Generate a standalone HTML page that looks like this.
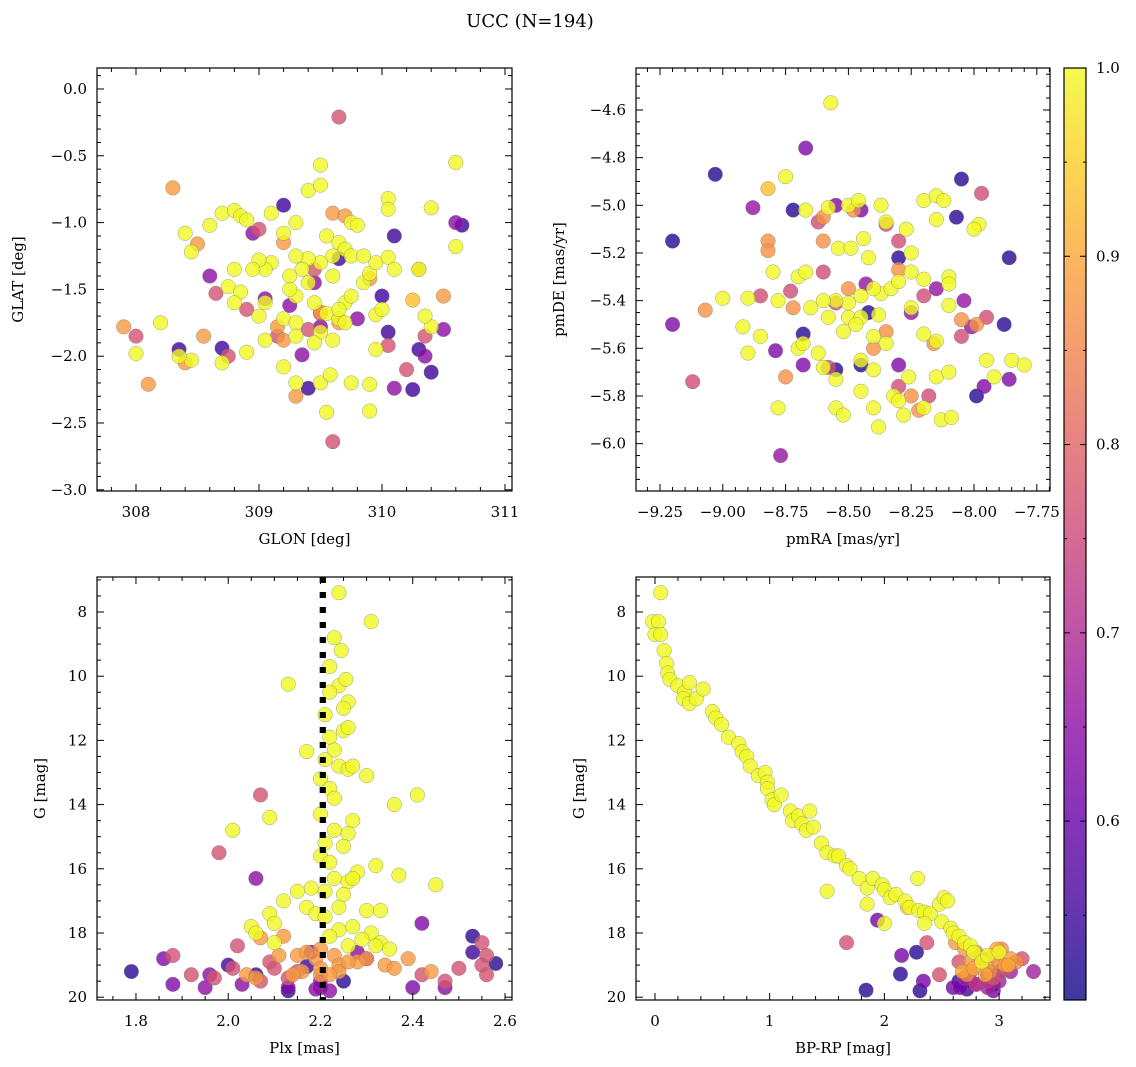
<!DOCTYPE html>
<html><head><meta charset="utf-8"><style>
html,body{margin:0;padding:0;background:#fff;}
svg{display:block;font-family:"DejaVu Serif","Liberation Serif",serif;}
</style></head><body>
<svg id="fig" width="1136" height="1067" viewBox="0 0 1136 1067" xmlns="http://www.w3.org/2000/svg">
<text x="530" y="27" font-size="18" text-anchor="middle">UCC (N=194)</text>
</svg>
<script>
// ---- Panel 1: GLON / GLAT ----
const p1Glon = [309.5,310.6,309.4,309.5,309.1,308.7,308.8,308.85,308.9,309.3,310.05,310.05,310.4,309.2,309.75,309.8,309.55,308.6,308.4,308.45,308.0,309.65,309.7,309.75,309.6,309.5,309.4,309.35,309.3,309.25,309.1,309.05,309.0,308.95,308.8,308.75,308.85,308.8,309.05,309.0,309.2,309.3,309.45,309.55,309.65,309.7,309.75,309.85,309.9,309.95,310.05,310.1,309.85,309.3,309.4,309.25,309.6,309.65,309.7,309.5,309.45,309.3,309.6,309.05,308.9,308.7,308.45,309.2,309.3,309.5,309.75,309.9,309.55,309.9,309.58,309.95,310.0,310.6,310.3,310.4,310.35,308.2,308.35,309.95,
308.3,309.6,309.7,309.2,308.5,309.9,310.3,310.5,309.5,309.15,309.2,309.3,308.1,307.9,308.4,309.65,308.55,
309.65,309.6,308.0,309.0,308.65,308.9,309.4,309.45,309.15,308.75,310.2,310.35,309.5,310.05,
308.6,309.45,308.95,309.25,309.05,309.35,309.5,310.35,310.5,310.6,309.8,310.1,
309.2,309.65,308.35,309.4,310.0,310.4,310.65,310.1,308.7,310.3,310.05,310.25,310.25];
const p1Glat = [-0.57,-0.55,-0.76,-0.72,-0.93,-0.93,-0.91,-0.95,-0.98,-1.0,-0.82,-0.9,-0.89,-1.08,-1.0,-1.02,-1.1,-1.02,-1.08,-1.22,-1.98,-1.15,-1.2,-1.25,-1.25,-1.3,-1.27,-1.35,-1.25,-1.4,-1.3,-1.35,-1.28,-1.35,-1.35,-1.48,-1.52,-1.6,-1.6,-1.7,-1.72,-1.75,-1.6,-1.68,-1.72,-1.6,-1.55,-1.45,-1.38,-1.3,-1.26,-1.35,-1.25,-1.55,-1.45,-1.5,-1.4,-1.65,-1.75,-1.82,-1.9,-1.85,-1.88,-1.88,-1.97,-2.05,-2.03,-2.08,-2.2,-2.2,-2.2,-2.21,-2.42,-2.41,-2.14,-1.69,-1.65,-1.18,-1.35,-1.78,-1.7,-1.75,-2.0,-1.95,
-0.74,-0.93,-0.95,-1.15,-1.16,-1.42,-1.35,-1.55,-1.67,-1.78,-1.88,-2.3,-2.21,-1.78,-2.05,-1.75,-1.85,
-0.21,-2.64,-1.85,-1.05,-1.53,-1.65,-1.8,-1.35,-1.85,-2.0,-2.1,-1.85,-1.68,-1.92,
-1.4,-1.45,-1.08,-1.62,-1.57,-1.99,-1.78,-2.0,-1.8,-1.0,-1.72,-2.24,
-0.87,-1.27,-1.95,-2.24,-1.55,-2.12,-1.02,-1.1,-1.94,-1.95,-1.82,-2.25,-1.58];
const p1Prob = [1,1,1,1,1,1,1,1,1,1,1,1,1,1,1,1,1,1,1,1,1,1,1,1,1,1,1,1,1,1,1,1,1,1,1,1,1,1,1,1,1,1,1,1,1,1,1,1,1,1,1,1,1,1,1,1,1,1,1,1,1,1,1,1,1,1,1,1,1,1,1,1,1,1,1,1,1,1,1,1,1,1,1,1,
0.88,0.88,0.88,0.88,0.88,0.88,0.88,0.88,0.88,0.88,0.88,0.88,0.88,0.88,0.88,0.88,0.88,
0.77,0.77,0.77,0.77,0.77,0.77,0.77,0.77,0.77,0.77,0.77,0.77,0.77,0.77,
0.65,0.65,0.65,0.65,0.65,0.65,0.65,0.65,0.65,0.65,0.65,0.65,
0.55,0.55,0.55,0.55,0.55,0.55,0.55,0.55,0.55,0.55,0.55,0.55,0.93];

// ---- Panel 2: pmRA / pmDE ----
const p2Ra = [-9.2,-9.03,-8.72,-8.68,-8.42,-8.05,-8.07,-8.3,-8.45,-7.88,-7.86,-7.99,-8.55,
-9.2,-8.88,-8.67,-8.55,-8.45,-8.15,-8.79,-8.68,-8.04,-7.96,-8.3,-8.01,-7.86,-8.77,-8.25,-8.43,
-8.85,-8.62,-9.12,-7.97,-8.73,-8.6,-8.55,-8.35,-8.3,-8.05,-8.2,-7.95,-8.58,-8.3,-8.18,
-9.07,-8.82,-8.82,-8.6,-8.72,-8.48,-8.3,-8.35,-8.16,-8.05,-7.99,-8.25,-8.22,-8.4,-8.75,-8.6,-8.5,
-8.57,-8.75,-8.82,-8.67,-8.58,-8.5,-8.46,-8.37,-8.2,-8.15,-8.12,-7.98,-8.35,-8.27,-8.15,-8.44,-8.25,-8.0,-8.8,-8.9,-8.78,-8.7,-8.67,-8.54,-8.49,-8.42,-8.37,-8.33,-8.25,-8.2,-8.1,-8.1,-8.3,-8.4,-8.45,-8.5,-8.55,-8.6,-8.65,-8.58,-8.5,-8.45,-8.38,-8.47,-8.52,-8.4,-8.35,-8.2,-8.15,-8.1,-8.25,-8.7,-8.62,-8.85,-8.92,-8.55,-8.45,-8.4,-8.32,-8.3,-8.26,-8.15,-8.1,-7.95,-7.92,-7.85,-7.8,-8.13,-8.09,-8.2,-8.4,-8.55,-8.78,-9.0,-8.9,-8.6,-8.68,-8.38,-8.45,-8.28,-8.52];
const p2De = [-5.15,-4.87,-5.02,-5.54,-5.45,-4.89,-5.05,-5.22,-5.67,-5.5,-5.22,-5.8,-5.69,
-5.5,-5.01,-4.76,-5.0,-5.02,-5.35,-5.61,-5.67,-5.4,-5.76,-5.67,-5.51,-5.73,-6.05,-5.45,-5.33,
-5.38,-5.07,-5.74,-4.95,-5.36,-5.28,-5.41,-5.08,-5.15,-5.55,-5.38,-5.47,-5.68,-5.76,-5.8,
-5.44,-5.15,-5.19,-5.05,-5.43,-5.02,-5.27,-5.53,-5.58,-5.48,-5.5,-5.8,-5.86,-5.6,-5.72,-5.15,-5.35,
-4.57,-4.88,-4.93,-5.02,-5.01,-5.0,-4.98,-5.0,-4.98,-4.96,-4.98,-5.08,-5.07,-5.1,-5.06,-5.14,-5.2,-5.1,-5.28,-5.39,-5.4,-5.3,-5.28,-5.18,-5.18,-5.22,-5.37,-5.35,-5.28,-5.31,-5.3,-5.33,-5.32,-5.35,-5.38,-5.41,-5.4,-5.4,-5.43,-5.47,-5.47,-5.47,-5.46,-5.5,-5.53,-5.55,-5.58,-5.54,-5.57,-5.42,-5.43,-5.6,-5.62,-5.55,-5.51,-5.73,-5.65,-5.69,-5.8,-5.82,-5.72,-5.72,-5.7,-5.65,-5.72,-5.65,-5.67,-5.9,-5.89,-5.85,-5.85,-5.85,-5.85,-5.39,-5.62,-5.68,-5.58,-5.93,-5.78,-5.88,-5.88];
const p2Prob = [0.53,0.53,0.53,0.53,0.53,0.53,0.53,0.53,0.53,0.53,0.53,0.53,0.53,
0.63,0.66,0.63,0.63,0.63,0.66,0.63,0.63,0.66,0.63,0.63,0.66,0.63,0.66,0.66,0.66,
0.76,0.76,0.76,0.76,0.76,0.76,0.76,0.76,0.76,0.76,0.76,0.76,0.76,0.76,0.76,
0.87,0.87,0.87,0.87,0.87,0.87,0.87,0.87,0.87,0.87,0.87,0.87,0.87,0.87,0.87,0.87,0.87,
1,1,0.93,1,1,1,1,1,1,1,1,1,1,1,1,1,1,1,1,1,1,1,1,1,1,1,1,1,1,1,1,1,1,1,1,1,1,1,1,1,1,1,1,1,1,1,1,1,1,1,1,1,1,1,1,1,1,1,1,1,1,1,1,1,1,1,1,1,1,1,1,1,1,1,1,1,1,1,1,1,1];

// ---- Panel 3: Plx / G ----
const p3Plx = [2.24,2.31,2.23,2.245,2.22,2.24,2.255,2.13,2.22,2.26,2.21,2.25,2.25,2.26,2.22,2.23,2.17,2.21,2.24,2.26,2.27,2.2,2.22,2.23,2.30,2.41,2.36,2.09,2.2,2.27,2.01,2.23,2.26,2.21,2.25,2.2,2.22,2.28,2.32,2.37,2.23,2.26,2.27,2.18,2.15,2.21,2.25,2.12,2.17,2.19,2.21,2.24,2.3,2.33,2.09,2.45,2.05,2.10,2.06,2.24,2.27,2.31,2.33,2.35,2.29,2.32,2.26,2.1,2.22,
2.12,2.07,2.11,2.15,2.19,2.23,2.24,2.28,2.3,2.34,2.36,2.44,2.2,2.16,2.04,2.06,2.14,2.2,2.24,2.2,2.17,2.39,2.22,2.26,
2.07,1.98,2.02,1.88,1.92,1.97,2.01,2.1,2.15,2.13,2.42,2.50,2.47,2.55,2.56,2.55,2.56,2.07,2.09,
2.06,2.42,1.86,1.96,1.88,1.95,2.03,2.13,2.19,2.2,2.22,2.28,2.3,2.18,2.4,2.47,2.2,
1.79,2.0,2.53,2.53,2.58,2.13,2.17,2.06,2.25];
const p3G = [7.4,8.3,8.8,9.2,9.7,10.3,10.1,10.25,10.5,10.8,11.2,11.0,11.7,11.6,11.9,12.3,12.35,12.6,12.8,12.9,12.8,13.2,13.5,13.8,13.1,13.7,14.0,14.4,14.3,14.5,14.8,14.8,14.9,15.2,15.3,15.6,15.8,16.1,15.9,16.2,16.3,16.4,16.3,16.6,16.7,16.7,16.8,17.0,17.2,17.4,17.5,17.2,17.3,17.3,17.4,16.5,17.8,17.7,18.0,17.9,17.8,18.0,18.3,18.5,18.2,18.4,18.4,18.3,18.1,
18.1,18.15,18.7,18.7,18.8,18.7,19.0,18.9,18.8,19.0,19.1,19.2,19.3,19.2,19.3,19.4,19.3,19.1,19.2,18.5,18.6,18.8,19.3,18.9,
13.7,15.5,18.4,18.7,19.3,19.4,19.1,19.1,19.2,19.4,19.3,19.1,19.5,18.3,18.7,19.0,19.3,19.5,18.9,
16.3,17.7,18.8,19.3,19.6,19.7,19.6,19.7,19.75,19.7,19.8,18.6,18.8,18.6,19.7,19.7,19.5,
19.2,19.0,18.1,18.6,18.95,19.8,19.05,19.3,19.5];
const p3Prob = [1,1,1,1,1,1,1,1,1,1,1,1,1,1,1,1,1,1,1,1,1,1,1,1,1,1,1,1,1,1,1,1,1,1,1,1,1,1,1,1,1,1,1,1,1,1,1,1,1,1,1,1,1,1,1,1,1,1,1,1,1,1,1,1,1,1,1,1,1,
0.88,0.88,0.88,0.88,0.88,0.88,0.88,0.88,0.88,0.88,0.88,0.88,0.88,0.88,0.88,0.88,0.88,0.88,0.88,0.88,0.88,0.88,0.88,0.88,
0.77,0.77,0.77,0.77,0.77,0.77,0.77,0.77,0.77,0.77,0.77,0.77,0.77,0.77,0.77,0.77,0.77,0.77,0.77,
0.65,0.63,0.63,0.65,0.63,0.65,0.65,0.63,0.65,0.63,0.65,0.65,0.65,0.63,0.63,0.65,0.65,
0.53,0.55,0.53,0.55,0.53,0.53,0.55,0.55,0.53];

// ---- Panel 4: BP-RP / G ----
const p4Col = [0.05,-0.02,0.03,0.0,0.05,0.08,0.1,0.11,0.13,0.2,0.26,0.3,0.25,0.3,0.36,0.42,0.5,0.53,0.58,0.64,0.73,0.76,0.8,0.83,0.9,0.96,0.98,0.98,1.02,1.04,1.1,1.18,1.2,1.25,1.28,1.32,1.35,1.38,1.45,1.5,1.57,1.6,1.67,1.7,1.78,1.85,1.9,1.98,2.0,2.05,2.1,2.18,2.22,2.3,2.35,2.4,2.48,2.5,2.52,2.55,2.58,2.6,2.65,2.7,2.75,2.78,2.85,2.9,3.0,2.29,1.85,1.5,2.0,2.35,
2.62,2.7,2.75,2.8,2.85,2.9,2.95,3.0,3.05,3.1,2.68,2.78,2.88,2.98,3.08,2.72,2.82,2.92,3.02,3.15,2.2,
2.65,2.75,2.85,2.95,3.05,3.2,2.8,2.9,3.0,1.67,2.37,2.48,
2.7,2.8,2.9,3.0,3.1,3.3,2.6,2.75,2.95,1.94,2.34,2.66,2.15,
1.84,2.14,2.28,2.31,2.65,2.72,2.9,2.95];
const p4G = [7.4,8.3,8.3,8.7,8.7,9.2,9.6,9.9,10.1,10.3,10.5,10.2,10.7,10.85,10.7,10.4,11.1,11.3,11.5,11.9,12.1,12.35,12.5,12.8,13.1,13.0,13.3,13.5,13.85,14.0,13.7,14.2,14.5,14.35,14.6,14.8,14.2,14.7,15.2,15.5,15.6,15.6,15.9,16.0,16.3,16.6,16.3,16.5,16.65,16.9,16.8,17.0,17.2,17.3,17.35,17.4,17.1,17.65,16.9,17.0,17.85,18.0,18.1,18.3,18.4,18.6,18.9,18.7,18.6,16.3,17.1,16.7,17.7,17.7,
18.3,18.5,18.9,18.6,18.8,19.0,18.7,18.9,19.0,18.8,19.2,19.1,19.3,18.5,19.0,19.3,18.7,19.2,18.5,18.9,17.2,
18.9,19.2,18.8,19.4,19.1,18.8,19.6,19.5,19.2,18.3,18.3,19.3,
19.4,19.6,19.7,19.5,19.2,19.2,19.7,19.5,19.8,17.6,19.5,19.7,18.7,
19.78,19.28,18.6,19.8,19.5,19.75,19.3,19.6];
const p4Prob = [1,1,1,1,1,1,1,1,1,1,1,1,1,1,1,1,1,1,1,1,1,1,1,1,1,1,1,1,1,1,1,1,1,1,1,1,1,1,1,1,1,1,1,1,1,1,1,1,1,1,1,1,1,1,1,1,1,1,1,1,1,1,1,1,1,1,1,1,1,1,1,1,1,1,
0.88,0.88,0.88,0.88,0.88,0.88,0.88,0.88,0.88,0.88,0.9,0.9,0.9,0.9,0.9,0.86,0.86,0.86,0.86,0.86,0.95,
0.77,0.77,0.77,0.77,0.77,0.77,0.72,0.72,0.72,0.77,0.77,0.77,
0.68,0.68,0.68,0.68,0.68,0.68,0.62,0.62,0.62,0.62,0.62,0.62,0.62,
0.53,0.53,0.53,0.53,0.53,0.55,0.55,0.55];

const NS = 'http://www.w3.org/2000/svg';
const svg = document.getElementById('fig');
function mk(tag, attrs, parent){ const e=document.createElementNS(NS,tag); for(const k in attrs) e.setAttribute(k,attrs[k]); (parent||svg).appendChild(e); return e; }
const stops=[[0,'#0d0887'],[0.1,'#41049d'],[0.2,'#6a00a8'],[0.3,'#8f0da4'],[0.4,'#b12a90'],[0.5,'#cc4778'],[0.6,'#e16462'],[0.7,'#f2844b'],[0.8,'#fca636'],[0.9,'#fcce25'],[1,'#f0f921']];
const CMIN=0.505, CMAX=1.0;
function hex(h){return [1,3,5].map(i=>parseInt(h.substr(i,2),16));}
function cmap(p){ let t=(p-CMIN)/(CMAX-CMIN); t=Math.max(0,Math.min(1,t));
  for(let i=1;i<stops.length;i++){ if(t<=stops[i][0]){ const a=hex(stops[i-1][1]),b=hex(stops[i][1]); const f=(t-stops[i-1][0])/(stops[i][0]-stops[i-1][0]); return 'rgb('+a.map((v,j)=>Math.round(v+(b[j]-v)*f)).join(',')+')'; } }
  return stops[stops.length-1][1]; }

function panel(cfg){
  const g=mk('g',{});
  
  
  const {L,R,T,B,x0,x1,y0,y1}=cfg;
  const sx=v=>L+(v-x0)/(x1-x0)*(R-L), sy=v=>T+(v-y0)/(y1-y0)*(B-T);
  const clip='clip-'+cfg.name;
  const cp=mk('clipPath',{id:clip},g); mk('rect',{x:L,y:T,width:R-L,height:B-T},cp);
  const pts=mk('g',{'clip-path':'url(#'+clip+')'},g);
  
  
  if(cfg.vline!==undefined){
    const ln=mk('line',{x1:sx(cfg.vline),x2:sx(cfg.vline),y1:T,y2:B,stroke:'#000','stroke-width':6,'stroke-dasharray':'6 9'},pts);
    
    
  }
  const idx=cfg.xs.map((_,i)=>i).sort((a,b)=>cfg.ps[a]-cfg.ps[b]);
  for(const i of idx){
    const c=mk('circle',{cx:sx(cfg.xs[i]),cy:sy(cfg.ys[i]),r:7.3,fill:cmap(cfg.ps[i]),'fill-opacity':0.8,stroke:'#777','stroke-width':0.5,'stroke-opacity':0.7},pts);
    
    
  }
  if(cfg.vline!==undefined){ const ln=mk('line',{x1:sx(cfg.vline),x2:sx(cfg.vline),y1:T,y2:B,stroke:'#000','stroke-width':6,'stroke-dasharray':'6 9'},pts);   }
  const tk=mk('g',{stroke:'#000','stroke-width':1},g);
  const eps=1e-9;
  const lo=Math.min(x0,x1),hi=Math.max(x0,x1);
  for(let v=Math.ceil(lo/cfg.xmin-eps)*cfg.xmin; v<=hi+eps; v+=cfg.xmin){
    const X=sx(v); const major=Math.abs(v/cfg.xmaj-Math.round(v/cfg.xmaj))<1e-6; const len=major?7:4;
    mk('line',{x1:X,x2:X,y1:B,y2:B-len},tk); mk('line',{x1:X,x2:X,y1:T,y2:T+len},tk);
  }
  const ylo=Math.min(y0,y1),yhi=Math.max(y0,y1);
  for(let v=Math.ceil(ylo/cfg.ymin-eps)*cfg.ymin; v<=yhi+eps; v+=cfg.ymin){
    const Y=sy(v); const major=Math.abs(v/cfg.ymaj-Math.round(v/cfg.ymaj))<1e-6; const len=major?7:4;
    mk('line',{x1:L,x2:L+len,y1:Y,y2:Y},tk); mk('line',{x1:R,x2:R-len,y1:Y,y2:Y},tk);
  }
  const fr=mk('rect',{x:L,y:T,width:R-L,height:B-T,fill:'none',stroke:'#000','stroke-width':1.2},g);
  
  
  for(const lab of cfg.xticks){
    const t=mk('text',{x:sx(lab[0]),y:B+26,'font-size':15,'text-anchor':'middle'},g); t.textContent=lab[1];
    
    
  }
  for(const lab of cfg.yticks){
    const t=mk('text',{x:L-10,y:sy(lab[0])+5,'font-size':15,'text-anchor':'end'},g); t.textContent=lab[1];
    
    
  }
  const xt=mk('text',{x:(L+R)/2,y:B+53,'font-size':15,'text-anchor':'middle'},g); xt.textContent=cfg.xlabel;
  
  
  const yt=mk('text',{x:0,y:0,'font-size':15,'text-anchor':'middle',transform:'translate('+cfg.ylx+','+(T+B)/2+') rotate(-90)'},g); yt.textContent=cfg.ylabel;
  
  
}
const lbl=(arr,d)=>arr.map(v=>[v,(v<0?'\u2212':'')+Math.abs(v).toFixed(d)]);
panel({name:'glon-glat-panel',L:97,R:512,T:68,B:491,x0:307.683,x1:311.057,y0:0.157,y1:-3.009,xs:p1Glon,ys:p1Glat,ps:p1Prob,
  xmaj:1,xmin:0.2,ymaj:0.5,ymin:0.1,xticks:lbl([308,309,310,311],0),yticks:lbl([0,-0.5,-1,-1.5,-2,-2.5,-3],1),xlabel:'GLON [deg]',ylabel:'GLAT [deg]',ylx:23});
panel({name:'pm-panel',L:636,R:1050,T:68,B:491,x0:-9.3455,x1:-7.6975,y0:-4.4239,y1:-6.1987,xs:p2Ra,ys:p2De,ps:p2Prob,
  xmaj:0.25,xmin:0.05,ymaj:0.2,ymin:0.05,xticks:lbl([-9.25,-9,-8.75,-8.5,-8.25,-8,-7.75],2),yticks:lbl([-4.6,-4.8,-5,-5.2,-5.4,-5.6,-5.8,-6],1),xlabel:'pmRA [mas/yr]',ylabel:'pmDE [mas/yr]',ylx:564});
panel({name:'plx-g-panel',L:97,R:512,T:577,B:1000,x0:1.7155,x1:2.6152,y0:6.910,y1:20.087,xs:p3Plx,ys:p3G,ps:p3Prob,vline:2.205,
  xmaj:0.2,xmin:0.05,ymaj:2,ymin:0.5,xticks:lbl([1.8,2.0,2.2,2.4,2.6],1),yticks:lbl([8,10,12,14,16,18,20],0),xlabel:'Plx [mas]',ylabel:'G [mag]',ylx:45});
panel({name:'cmd-panel',L:636,R:1050,T:577,B:1000,x0:-0.1656,x1:3.4438,y0:6.910,y1:20.087,xs:p4Col,ys:p4G,ps:p4Prob,
  xmaj:1,xmin:0.2,ymaj:2,ymin:0.5,xticks:lbl([0,1,2,3],0),yticks:lbl([8,10,12,14,16,18,20],0),xlabel:'BP-RP [mag]',ylabel:'G [mag]',ylx:584});

// colorbar
const cbTicks=[0.6,0.7,0.8,0.9,1.0];
const defs=mk('defs',{});
const lg=mk('linearGradient',{id:'plasma',x1:0,y1:1,x2:0,y2:0},defs);
stops.forEach(s=>mk('stop',{offset:s[0],'stop-color':s[1]},lg));
const cb=mk('g',{});


const cT=68,cB=1000,cL=1064,cR=1086;
const cy=v=>cB-(v-CMIN)/(CMAX-CMIN)*(cB-cT);
mk('rect',{x:cL,y:cT,width:cR-cL,height:cB-cT,fill:'url(#plasma)','fill-opacity':0.8},cb);
mk('rect',{x:cL,y:cT,width:cR-cL,height:cB-cT,fill:'none',stroke:'#000','stroke-width':1.2},cb);
for(let v=0.55; v<=1.0001; v+=0.05){ const Y=cy(v); const maj=Math.abs(v*10-Math.round(v*10))<1e-6; mk('line',{x1:cR,x2:cR-(maj?6:3),y1:Y,y2:Y,stroke:'#000'},cb); mk('line',{x1:cL,x2:cL+(maj?6:3),y1:Y,y2:Y,stroke:'#000'},cb); }
for(const v of cbTicks){ const t=mk('text',{x:cR+10,y:cy(v)+5,'font-size':15},cb); t.textContent=v.toFixed(1);
  
   }
</script>
</body></html>
